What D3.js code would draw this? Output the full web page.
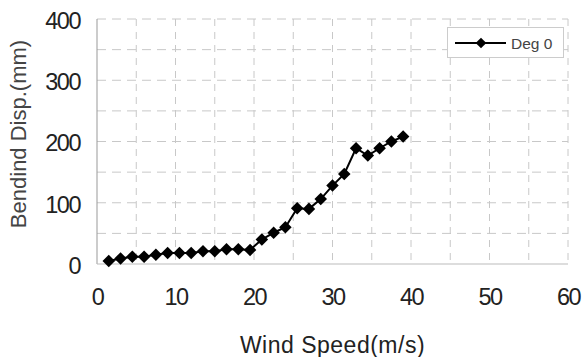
<!DOCTYPE html>
<html><head><meta charset="utf-8">
<script src="https://cdn.jsdelivr.net/npm/d3@7"></script>
<style>html,body{margin:0;padding:0;background:#fff;}svg{display:block;}</style>
</head><body>
<svg id="c" width="582" height="357"></svg>
<script>
const windSpeed = [1.5,3,4.5,6,7.5,9,10.5,12,13.5,15,16.5,18,19.5,21,22.5,24,25.5,27,28.5,30,31.5,33,34.5,36,37.5,39];
const deg0 = [5,9,12,12,15,18,18,18,21,21,24,24,23,40,51,60,91,90,106,128,147,189,177,189,200,208];
const xTicks = [0,10,20,30,40,50,60];
const yTicks = [0,100,200,300,400];
const seriesName = "Deg 0";

const svg = d3.select("#c");
const m = {l:97, r:568, t:19, b:264};
const x = d3.scaleLinear().domain([0,60]).range([m.l,m.r]);
const y = d3.scaleLinear().domain([0,400]).range([m.b,m.t]);
const font = "'Liberation Sans', Arial, sans-serif";
const txt = "#222";

// grid
const g = svg.append("g");
g.selectAll("line.v").data(d3.range(5,61,5)).join("line")
  .attr("x1",d=>x(d)).attr("x2",d=>x(d)).attr("y1",m.t).attr("y2",m.b)
  .attr("stroke","#c8c8c8").attr("stroke-width",1).attr("stroke-dasharray","7,6");
g.selectAll("line.h").data(d3.range(50,401,50)).join("line")
  .attr("x1",m.l).attr("x2",m.r).attr("y1",d=>y(d)).attr("y2",d=>y(d))
  .attr("stroke","#c8c8c8").attr("stroke-width",1).attr("stroke-dasharray","9,6");
// axes lines
svg.append("line").attr("x1",m.l).attr("x2",m.l).attr("y1",m.t).attr("y2",m.b).attr("stroke","#999");
svg.append("line").attr("x1",m.l).attr("x2",m.r).attr("y1",m.b).attr("y2",m.b).attr("stroke","#bbb");

// axes via d3
const xa = svg.append("g").attr("transform",`translate(0,${m.b})`)
  .call(d3.axisBottom(x).tickValues(xTicks).tickSize(0).tickPadding(36));
const ya = svg.append("g").attr("transform",`translate(${m.l},0)`)
  .call(d3.axisLeft(y).tickValues(yTicks).tickSize(0).tickPadding(17));
[xa,ya].forEach(a=>{
  a.select(".domain").remove();
  a.selectAll("text").attr("font-family",font).attr("font-size",23.5).attr("fill",txt).attr("letter-spacing","-1.5");
});
ya.selectAll("text").attr("dy","0.4em");
xa.selectAll("text").attr("dy","0.2em");

// line
svg.append("path").datum(windSpeed.map((w,i)=>[w,deg0[i]]))
  .attr("fill","none").attr("stroke","#000").attr("stroke-width",2)
  .attr("d",d3.line().x(d=>x(d[0])).y(d=>y(d[1])));
const diamond = d3.symbol().type(d3.symbolDiamond2).size(100);
svg.selectAll("path.pt").data(windSpeed.map((w,i)=>[w,deg0[i]])).join("path")
  .attr("class","pt").attr("d",diamond)
  .attr("transform",d=>`translate(${x(d[0])},${y(d[1])})`).attr("fill","#000");

// titles
svg.append("text").attr("x",(m.l+m.r)/2).attr("y",353).attr("text-anchor","middle")
  .attr("font-family",font).attr("font-size",23).attr("fill",txt).attr("letter-spacing","0.5")
  .text("Wind Speed(m/s)");
svg.append("text").attr("transform","translate(26,134) rotate(-90)").attr("text-anchor","middle")
  .attr("font-family",font).attr("font-size",22).attr("fill","#444")
  .text("Bendind Disp.(mm)");

// legend
const lg = svg.append("g");
lg.append("rect").attr("x",447.5).attr("y",27.5).attr("width",116).attr("height",30)
  .attr("fill","#fff").attr("stroke","#ccc");
lg.append("line").attr("x1",455).attr("x2",506).attr("y1",43).attr("y2",43).attr("stroke","#000").attr("stroke-width",2);
lg.append("path").attr("d",d3.symbol().type(d3.symbolDiamond2).size(72)).attr("transform","translate(481,43)").attr("fill","#000");
lg.append("text").attr("x",511).attr("y",48.5).attr("font-family",font).attr("font-size",15.5).attr("fill","#444").text(seriesName);
</script>
</body></html>
